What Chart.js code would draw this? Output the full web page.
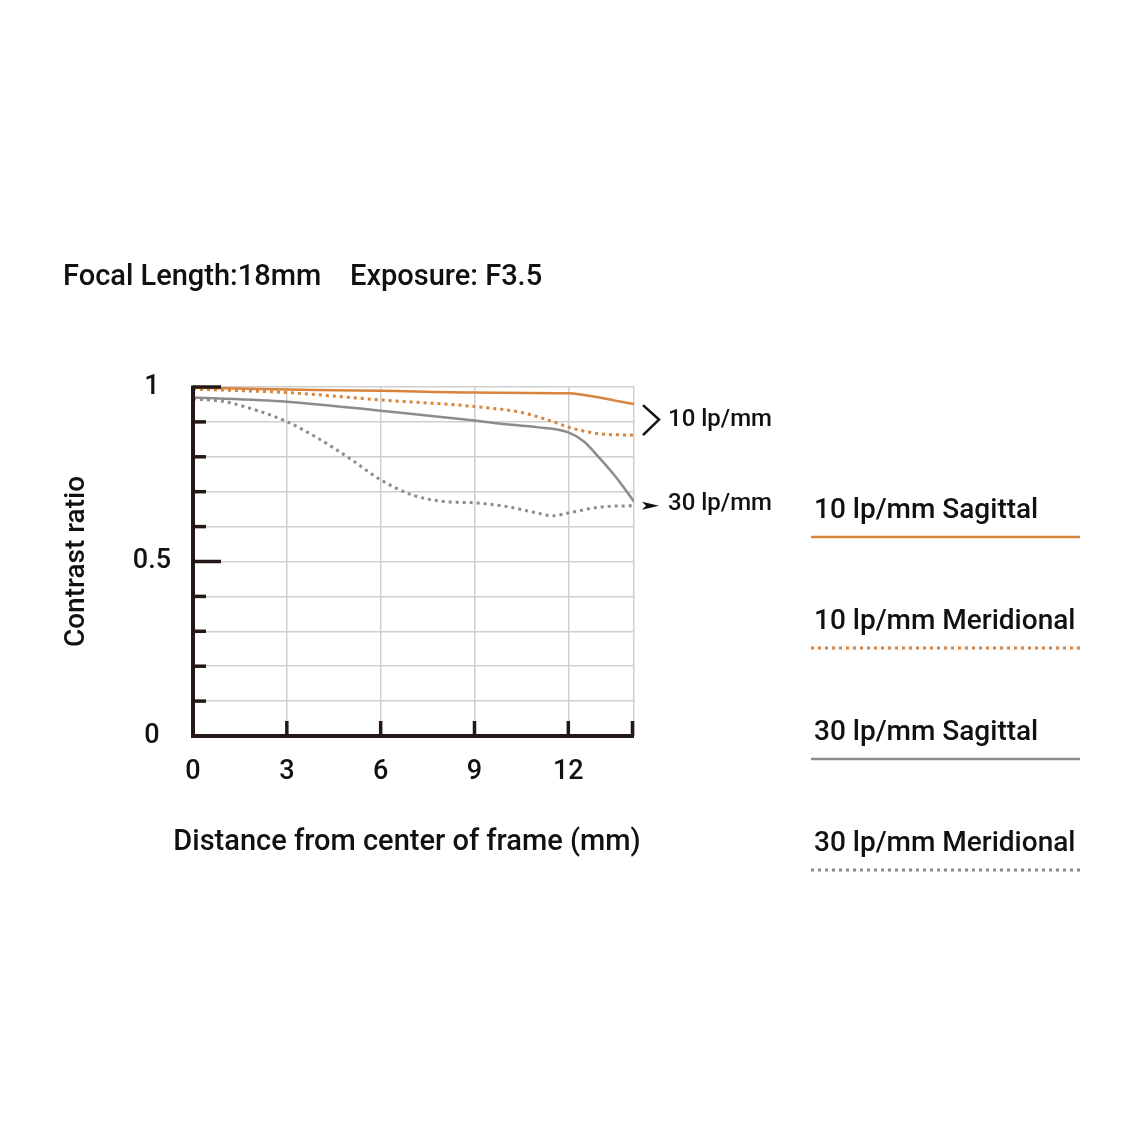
<!DOCTYPE html>
<html>
<head>
<meta charset="utf-8">
<script src="https://cdn.jsdelivr.net/npm/chart.js@4.4.1/dist/chart.umd.min.js"></script>
<style>
  html, body { margin: 0; padding: 0; background: #fff; }
  canvas { display: block; }
</style>
</head>
<body>
<canvas id="mtf" width="1140" height="1140"></canvas>
<script>
// MTF chart - Focal Length 18mm, F3.5

const titulo = 'Focal Length:18mm    Exposure: F3.5';
const tituloX = 'Distance from center of frame (mm)';
const xMax = 14.1;
const xTicks = [0, 3, 6, 9, 12];
const yLabels = [0, 0.5, 1];

// valores (mm -> contraste)
const s10x = [0, 3, 6, 9, 12, 12.5, 13, 13.5, 14.1];
const s10y = [0.998, 0.993, 0.989, 0.984, 0.982, 0.977, 0.970, 0.961, 0.951];

const m10x = [0, 3, 6, 9, 10.5, 11.5, 12, 13, 14.1];
const m10y = [0.994, 0.984, 0.963, 0.944, 0.927, 0.901, 0.885, 0.866, 0.862];

const s30x = [0, 3, 6, 9, 10, 11, 12, 12.5, 13, 13.5, 14.1];
const s30y = [0.970, 0.958, 0.932, 0.904, 0.893, 0.885, 0.870, 0.844, 0.796, 0.744, 0.672];

const m30x = [0, 1, 2, 3, 4, 5, 6, 7, 8, 9, 10, 11, 11.5, 12, 13, 14.1];
const m30y = [0.966, 0.958, 0.934, 0.901, 0.853, 0.796, 0.734, 0.691, 0.672, 0.668, 0.658, 0.639, 0.631, 0.639, 0.656, 0.660];

const laranja = '#d8843c';
const cinza = '#8c8c8c';
const corEixo = '#231815';
const fonte = 'Roboto, "Liberation Sans", Arial, sans-serif';

function pontos(xs, ys) {
    return xs.map((x, i) => ({ x: x, y: ys[i] }));
}

const datasets = [
    { label: '10 lp/mm Sagittal', data: pontos(s10x, s10y), borderColor: laranja, borderDash: [], borderWidth: 2.5 },
    { label: '10 lp/mm Meridional', data: pontos(m10x, m10y), borderColor: laranja, borderDash: [3, 4], borderWidth: 3 },
    { label: '30 lp/mm Sagittal', data: pontos(s30x, s30y), borderColor: cinza, borderDash: [], borderWidth: 2.5 },
    { label: '30 lp/mm Meridional', data: pontos(m30x, m30y), borderColor: cinza, borderDash: [3, 4], borderWidth: 3 }
].map(d => Object.assign(d, {
    pointRadius: 0,
    tension: 0.4,
    cubicInterpolationMode: 'monotone',
    fill: false
}));

// eixos grossos + marcas, titulos, legenda e rotulos laterais
const pluginDesenho = {
    id: 'desenhoMTF',
    afterDatasetsDraw(chart) {
        const ctx = chart.ctx;
        const x = chart.scales.x, y = chart.scales.y;
        const x0 = x.getPixelForValue(0), x1 = x.getPixelForValue(xMax);
        const y0 = y.getPixelForValue(0), y1 = y.getPixelForValue(1);
        ctx.save();
        ctx.strokeStyle = corEixo;
        ctx.lineCap = 'butt';

        // marcas do eixo y
        ctx.lineWidth = 3.5;
        for (let v = 1; v <= 10; v++) {
            const py = y.getPixelForValue(v / 10);
            const len = (v === 5 || v === 10) ? 28 : 13;
            ctx.beginPath();
            ctx.moveTo(x0, py);
            ctx.lineTo(x0 + len, py);
            ctx.stroke();
        }
        // marcas do eixo x
        xTicks.concat([xMax]).forEach(v => {
            if (v === 0) return;
            const px = v === xMax ? x1 - 1.5 : x.getPixelForValue(v);
            ctx.beginPath();
            ctx.moveTo(px, y0);
            ctx.lineTo(px, y0 - 15);
            ctx.stroke();
        });
        // eixos
        ctx.lineWidth = 4;
        ctx.beginPath();
        ctx.moveTo(x0, y1 - 1.5);
        ctx.lineTo(x0, y0);
        ctx.lineTo(x1, y0);
        ctx.stroke();

        // titulo
        ctx.fillStyle = '#111';
        ctx.font = '500 29px ' + fonte;
        ctx.textAlign = 'left';
        ctx.textBaseline = 'middle';
        ctx.fillText(titulo, 63, 278);

        // titulo do eixo x (sem compressao de largura)
        ctx.textAlign = 'center';
        ctx.fillText(tituloX, 407, 843);
        ctx.textAlign = 'left';

        // rotulos 10 / 30 lp/mm
        const yS10 = y.getPixelForValue(s10y[s10y.length - 1]);
        const yM10 = y.getPixelForValue(m10y[m10y.length - 1]);
        const yM30 = y.getPixelForValue(m30y[m30y.length - 1]);
        ctx.strokeStyle = '#111';
        ctx.lineWidth = 2.5;
        ctx.beginPath();
        ctx.moveTo(x1 + 9, yS10 + 1);
        ctx.lineTo(x1 + 25, (yS10 + yM10) / 2);
        ctx.lineTo(x1 + 9, yM10);
        ctx.stroke();
        ctx.beginPath();
        ctx.moveTo(x1 + 8, yM30 - 4);
        ctx.lineTo(x1 + 25, yM30);
        ctx.lineTo(x1 + 8, yM30 + 4);
        ctx.lineTo(x1 + 12, yM30);
        ctx.closePath();
        ctx.fillStyle = '#111';
        ctx.fill();
        ctx.font = '500 24px ' + fonte;
        ctx.fillText('10 lp/mm', x1 + 34, (yS10 + yM10) / 2);
        ctx.fillText('30 lp/mm', x1 + 34, yM30 - 2);

        // legenda
        ctx.font = '500 28px ' + fonte;
        chart.data.datasets.forEach((ds, i) => {
            const ty = 511 + i * 111;
            ctx.fillStyle = '#111';
            ctx.textBaseline = 'middle';
            ctx.fillText(ds.label, 814, ty);
            ctx.strokeStyle = ds.borderColor;
            ctx.lineWidth = ds.borderWidth;
            ctx.setLineDash(ds.borderDash);
            ctx.beginPath();
            ctx.moveTo(811, ty + 26);
            ctx.lineTo(1080, ty + 26);
            ctx.stroke();
            ctx.setLineDash([]);
        });
        ctx.restore();
    }
};

new Chart(document.getElementById('mtf'), {
    type: 'line',
    data: { datasets: datasets },
    options: {
        responsive: false,
        animation: false,
        layout: { padding: { left: 60, top: 387, right: 506, bottom: 278 } },
        plugins: { legend: { display: false }, tooltip: { enabled: false } },
        scales: {
            x: {
                type: 'linear',
                min: 0,
                max: xMax,
                afterBuildTicks: (scale) => {
                    scale.ticks = xTicks.concat([xMax]).map(v => ({ value: v }));
                },
                afterFit: (scale) => { scale.height = 1140 - 736 - 278; },
                grid: { color: '#cfcfcf', lineWidth: 1.5, drawTicks: false },
                border: { display: false },
                ticks: {
                    padding: 20,
                    autoSkip: false,
                    maxRotation: 0,
                    color: '#111',
                    font: { family: fonte, size: 27, weight: '500' },
                    callback: (v) => xTicks.includes(v) ? String(v) : ''
                },
                title: { display: false }
            },
            y: {
                min: 0,
                max: 1,
                afterBuildTicks: (scale) => {
                    const t = [];
                    for (let i = 0; i <= 10; i++) t.push({ value: i / 10 });
                    scale.ticks = t;
                },
                afterFit: (scale) => { scale.width = 193 - 60; },
                grid: { color: '#cfcfcf', lineWidth: 1.5, drawTicks: false },
                border: { display: false },
                ticks: {
                    padding: 22,
                    autoSkip: false,
                    crossAlign: 'center',
                    color: '#111',
                    font: { family: fonte, size: 27, weight: '500' },
                    callback: (v) => yLabels.includes(v) ? String(v) : ''
                },
                title: {
                    display: true,
                    text: 'Contrast ratio',
                    color: '#111',
                    font: { family: fonte, size: 28, weight: '500' },
                    padding: { top: 0, bottom: 0 }
                }
            }
        }
    },
    plugins: [pluginDesenho]
});
</script>
</body>
</html>
